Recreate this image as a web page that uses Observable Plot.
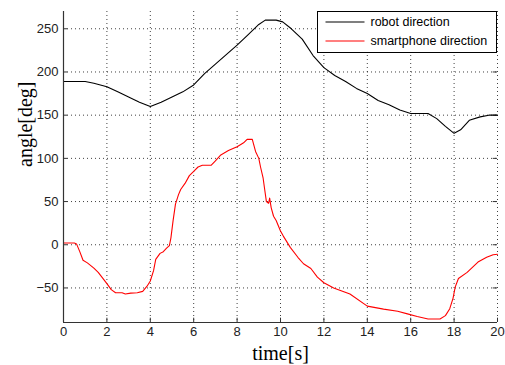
<!DOCTYPE html>
<html>
<head>
<meta charset="utf-8">
<script src="https://cdn.jsdelivr.net/npm/d3@7"></script>
<script src="https://cdn.jsdelivr.net/npm/@observablehq/plot@0.6"></script>
<style>
  html, body { margin: 0; padding: 0; background: #fff; }
  #chart { position: relative; width: 505px; height: 365px; }
</style>
</head>
<body>
<div id="chart"></div>
<script>
const robotTime = [0, 0.5, 1.0, 1.4, 2, 2.5, 3, 3.5, 4, 4.5, 5, 5.5, 6, 6.5, 7, 7.5, 8, 8.5, 9, 9.3, 9.8, 10.1, 10.5, 11, 11.5, 12, 12.5, 13, 13.5, 14, 14.5, 15, 15.5, 16, 16.5, 16.8, 17.2, 17.6, 18, 18.3, 18.7, 19.2, 19.6, 20];
const robotAngle = [189, 189, 189, 187, 183, 177, 171, 165, 160, 165, 171, 177, 185, 198, 209, 220, 231, 243, 255, 260, 260, 258, 250, 238, 219, 205, 196, 189, 181, 175, 167, 162, 156, 152, 152, 152, 146, 137, 129, 133, 144, 148, 150, 150];

const phoneTime = [0, 0.5, 0.6, 0.75, 0.9, 1.1, 1.4, 1.6, 1.85, 2.0, 2.2, 2.4, 2.7, 2.85, 3.1, 3.4, 3.65, 3.85, 4.0, 4.15, 4.25, 4.45, 4.6, 4.75, 4.88, 4.95, 5.05, 5.16, 5.3, 5.4, 5.6, 5.8, 6.0, 6.2, 6.4, 6.8, 7.0, 7.25, 7.6, 8.0, 8.3, 8.46, 8.7, 8.85, 9.0, 9.08, 9.2, 9.26, 9.35, 9.45, 9.5, 9.57, 9.68, 9.8, 10.0, 10.13, 10.45, 10.8, 11.06, 11.4, 11.7, 12.0, 12.45, 13.2, 14, 14.75, 15.4, 15.85, 16.3, 16.8, 17.35, 17.6, 17.8, 17.95, 18.05, 18.2, 18.6, 19.1, 19.5, 19.8, 20];
const phoneAngle = [2, 2, 1, -8, -18, -21, -27, -32, -40, -45, -52, -55.5, -55.5, -57, -56, -55.5, -54, -48, -42, -30, -17, -10, -8, -4, -1, 8, 28, 47, 58, 64, 71, 80, 85, 90, 92, 92, 97, 104, 109, 113.5, 118, 122, 122, 108, 100, 90, 77, 66, 50, 48, 54, 43, 33, 28, 16, 10, -3, -14.5, -22, -27.5, -37.5, -44, -50, -57, -71, -74.5, -77, -80, -83, -86, -86, -82, -74, -62, -49, -39, -32, -20, -14.5, -11.5, -11];

const xTicks = [0, 2, 4, 6, 8, 10, 12, 14, 16, 18, 20];
const yTicks = [-50, 0, 50, 100, 150, 200, 250];
const seriesNames = ["robot direction", "smartphone direction"];
const seriesColors = ["#000000", "#ff0000"];
const xLabel = "time[s]";
const yLabel = "angle[deg]";

const robot = robotTime.map((t, i) => ({t, v: robotAngle[i]}));
const phone = phoneTime.map((t, i) => ({t, v: phoneAngle[i]}));

const plot = Plot.plot({
  width: 505,
  height: 365,
  marginLeft: 63,
  marginRight: 8,
  marginTop: 11,
  marginBottom: 43,
  style: {fontFamily: "Liberation Sans, Arial, sans-serif", fontSize: "13px", background: "#fff", color: "#000"},
  x: {domain: [0, 20]},
  y: {domain: [-90, 270]},
  marks: [
    Plot.gridX(xTicks, {stroke: "#000", strokeOpacity: 0.75, strokeDasharray: "1,3"}),
    Plot.gridY(yTicks, {stroke: "#000", strokeOpacity: 0.75, strokeDasharray: "1,3"}),
    Plot.ruleY(yTicks, {x1: 0, x2: 0.2, stroke: "#333"}),
    Plot.ruleY(yTicks, {x1: 19.8, x2: 20, stroke: "#333"}),
    Plot.ruleX(xTicks, {y1: -90, y2: -85, stroke: "#333"}),
    Plot.line(robot, {x: "t", y: "v", stroke: seriesColors[0], strokeWidth: 1.1}),
    Plot.line(phone, {x: "t", y: "v", stroke: seriesColors[1], strokeWidth: 1.1}),
    Plot.axisX(xTicks, {tickSize: 0, tickPadding: 4, label: null, fontSize: 13, fill: "#222"}),
    Plot.axisY(yTicks, {tickSize: 0, tickPadding: 5, label: null, fontSize: 13, fill: "#222"}),
    Plot.ruleX([0], {stroke: "#333", strokeWidth: 1.2}),
    Plot.ruleY([-90], {stroke: "#333", strokeWidth: 1.2}),
    Plot.text([xLabel], {frameAnchor: "bottom", lineAnchor: "middle", dy: 31, fontFamily: "Liberation Serif, Times New Roman, serif", fontSize: 20, fill: "#000"}),
    Plot.text([yLabel], {frameAnchor: "left", lineAnchor: "middle", dx: -38, rotate: -90, fontFamily: "Liberation Serif, Times New Roman, serif", fontSize: 20, fill: "#000"})
  ]
});

// Legend drawn in the SVG (box top-right)
const svg = d3.select(plot);
const lg = svg.append("g").attr("transform", "translate(317.5,11.5)");
lg.append("rect").attr("width", 179).attr("height", 41).attr("fill", "#fff").attr("stroke", "#000").attr("stroke-width", 1);
seriesNames.forEach((name, i) => {
  const y = 10.5 + i * 19;
  lg.append("line").attr("x1", 8).attr("x2", 47).attr("y1", y).attr("y2", y)
    .attr("stroke", seriesColors[i]).attr("stroke-width", 1.2);
  lg.append("text").attr("x", 53).attr("y", y).attr("dy", "0.35em")
    .attr("text-anchor", "start")
    .attr("font-family", "Liberation Sans, Arial, sans-serif").attr("font-size", 12.5)
    .attr("fill", "#000").text(name);
});

document.getElementById("chart").appendChild(plot);
</script>
</body>
</html>
